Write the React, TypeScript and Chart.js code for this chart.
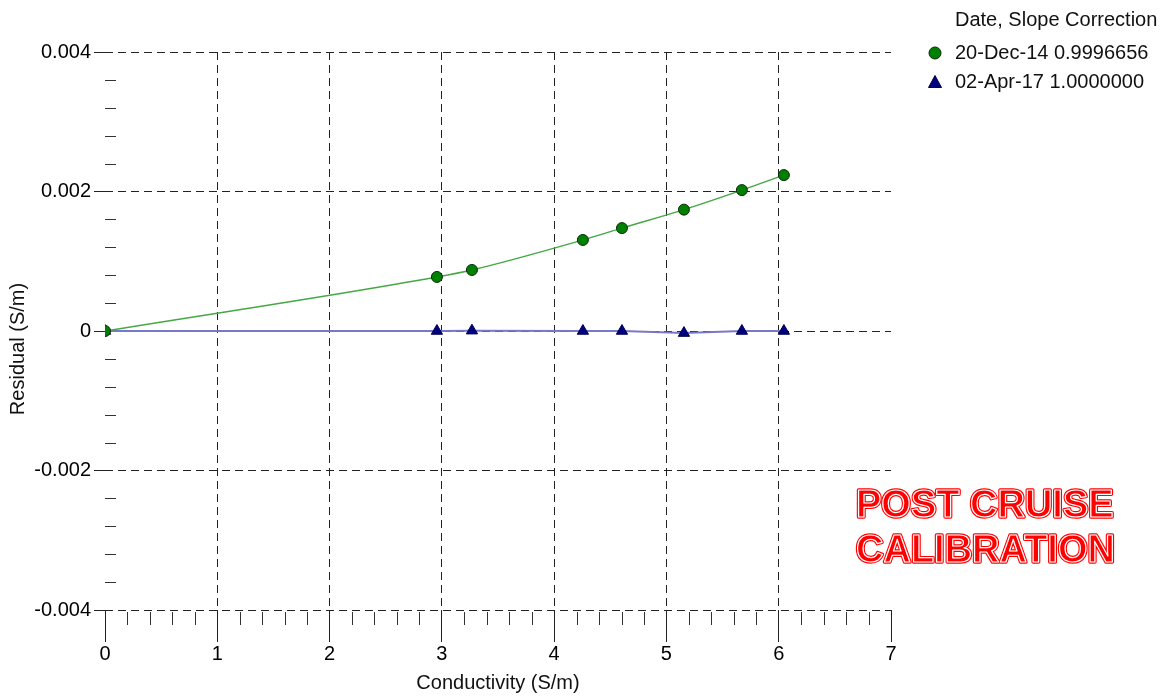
import React, { useEffect, useRef } from "react";
import { Chart, registerables } from "chart.js";

Chart.register(...registerables);

// ---- data ----
const conductivity = [0, 2.956, 3.268, 4.256, 4.604, 5.156, 5.672, 6.046];
const residualDec14 = [0, 0.000775, 0.000875, 0.001305, 0.001475, 0.00174, 0.00202, 0.002235];
const residualApr17 = [0, 0, 0.000005, 0, 0, -0.00003, 0, 0];
const seriesLabels = ["20-Dec-14 0.9996656", "02-Apr-17 1.0000000"];
const legendTitle = "Date, Slope Correction";
const xTicks = [0, 1, 2, 3, 4, 5, 6, 7];
const xTickLabels = ["0", "1", "2", "3", "4", "5", "6", "7"];
const yTicks = [-0.004, -0.002, 0, 0.002, 0.004];
const yTickLabels = ["-0.004", "-0.002", "0", "0.002", "0.004"];
const xTitle = "Conductivity (S/m)";
const yTitle = "Residual (S/m)";
const stampLines = ["POST CRUISE", "CALIBRATION"];

const FONT = '"Liberation Sans", Arial, Helvetica, sans-serif';
const GREEN_FILL = "#008000";
const GREEN_LINE = "#45a845";
const NAVY_FILL = "#000080";
const NAVY_LINE = "#7878c8";

const overlayPlugin = {
  id: "overlay",
  afterDraw(chart: any) {
    const ctx = chart.ctx as CanvasRenderingContext2D;
    const xs = chart.scales.x;
    const ys = chart.scales.y;
    const area = chart.chartArea;
    ctx.save();
    // minor ticks
    ctx.strokeStyle = "#333";
    ctx.lineWidth = 1;
    ctx.setLineDash([]);
    ctx.beginPath();
    for (let i = 1; i < 35; i++) {
      if (i % 5 === 0) continue;
      const px = Math.round(xs.getPixelForValue(i * 0.2)) + 0.5;
      ctx.moveTo(px, area.bottom + 2);
      ctx.lineTo(px, area.bottom + 15);
    }
    for (let i = 1; i < 20; i++) {
      if (i % 5 === 0) continue;
      const py = Math.round(ys.getPixelForValue(-0.004 + i * 0.0004)) + 0.5;
      ctx.moveTo(area.left, py);
      ctx.lineTo(area.left + 11, py);
    }
    ctx.stroke();

    // axis titles
    ctx.fillStyle = "#111";
    ctx.font = `20px ${FONT}`;
    ctx.textAlign = "center";
    ctx.textBaseline = "middle";
    ctx.fillText(xTitle, (area.left + area.right) / 2, 683);
    ctx.save();
    ctx.translate(18, 349);
    ctx.rotate(-Math.PI / 2);
    ctx.fillText(yTitle, 0, 0);
    ctx.restore();

    // legend
    ctx.textAlign = "left";
    ctx.fillText(legendTitle, 955, 20);
    const rows = [53, 82];
    chart.data.datasets.forEach((ds: any, i: number) => {
      const cy = rows[i];
      const cx = 935;
      ctx.beginPath();
      if (i === 0) {
        ctx.arc(cx, cy, 6, 0, Math.PI * 2);
      } else {
        ctx.moveTo(cx, cy - 6.5);
        ctx.lineTo(cx + 6.5, cy + 5.5);
        ctx.lineTo(cx - 6.5, cy + 5.5);
        ctx.closePath();
      }
      ctx.fillStyle = ds.backgroundColor;
      ctx.fill();
      ctx.strokeStyle = ds.pointBorderColor;
      ctx.lineWidth = 1;
      ctx.stroke();
      ctx.fillStyle = "#111";
      ctx.fillText(ds.label, 955, cy);
    });

    // stamp
    ctx.font = `bold 38px ${FONT}`;
    ctx.textBaseline = "alphabetic";
    ctx.textAlign = "left";
    ctx.lineJoin = "round";
    const ys2 = [517, 562];
    stampLines.forEach((t, i) => {
      ctx.strokeStyle = "#ff0000";
      ctx.lineWidth = 3.5;
      ctx.strokeText(t, 856, ys2[i]);
      ctx.fillStyle = "#ff0000";
      ctx.fillText(t, 856, ys2[i]);
      ctx.strokeStyle = "#ffffff";
      ctx.lineWidth = 1.2;
      ctx.strokeText(t, 856, ys2[i]);
    });
    ctx.restore();
  },
};

export default function App() {
  const ref = useRef<HTMLCanvasElement | null>(null);
  useEffect(() => {
    if (!ref.current) return;
    const chart = new Chart(ref.current, {
      type: "line",
      data: {
        datasets: [
          {
            label: seriesLabels[0],
            data: conductivity.map((x, i) => ({ x, y: residualDec14[i] })),
            borderColor: GREEN_LINE,
            borderWidth: 1.5,
            backgroundColor: GREEN_FILL,
            pointBackgroundColor: GREEN_FILL,
            pointBorderColor: "#0a2a0a",
            pointBorderWidth: 1,
            pointRadius: 5.5,
            pointStyle: "circle",
            cubicInterpolationMode: "monotone",
            fill: false,
          } as any,
          {
            label: seriesLabels[1],
            data: conductivity.map((x, i) => ({ x, y: residualApr17[i] })),
            borderColor: NAVY_LINE,
            borderWidth: 2,
            backgroundColor: NAVY_FILL,
            pointBackgroundColor: NAVY_FILL,
            pointBorderColor: "#000050",
            pointBorderWidth: 1,
            pointRadius: 6.5,
            pointStyle: "triangle",
            fill: false,
          } as any,
        ],
      },
      options: {
        animation: false,
        responsive: false,
        layout: { padding: { left: 0, top: 52, right: 282, bottom: 0 } },
        plugins: { legend: { display: false }, tooltip: { enabled: false } },
        scales: {
          x: {
            type: "linear",
            min: 0,
            max: 7,
            afterBuildTicks: (s: any) => {
              s.ticks = xTicks.map((v) => ({ value: v }));
            },
            afterFit: (s: any) => {
              s.height = 86;
            },
            ticks: {
              color: "#000",
              font: { size: 20, family: FONT },
              padding: 0,
              maxRotation: 0,
              autoSkip: false,
              callback: (v: any) => {
                const k = xTicks.findIndex((t) => Math.abs(t - v) < 1e-9);
                return k >= 0 ? xTickLabels[k] : "";
              },
            },
            grid: {
              color: (c: any) =>
                c.tick && (c.tick.value === 0 || c.tick.value === 7) ? "rgba(0,0,0,0)" : "#222",
              tickColor: "#222",
              tickLength: 32,
              lineWidth: 1,
            },
            border: { display: false, dash: [8, 5] },
          },
          y: {
            type: "linear",
            min: -0.004,
            max: 0.004,
            afterBuildTicks: (s: any) => {
              s.ticks = yTicks.map((v) => ({ value: v }));
            },
            afterFit: (s: any) => {
              s.width = 105;
            },
            ticks: {
              color: "#000",
              font: { size: 20, family: FONT },
              padding: 3,
              autoSkip: false,
              callback: (v: any) => {
                const k = yTicks.findIndex((t) => Math.abs(t - v) < 1e-9);
                return k >= 0 ? yTickLabels[k] : "";
              },
            },
            grid: { color: "#222", tickColor: "#222", tickLength: 11, lineWidth: 1 },
            border: { display: false, dash: [8, 5] },
          },
        },
      } as any,
      plugins: [overlayPlugin],
    });
    return () => chart.destroy();
  }, []);
  return (
    <div style={{ position: "absolute", left: 0, top: 0, width: 1173, height: 696, background: "#fff" }}>
      <canvas ref={ref} width={1173} height={696} style={{ display: "block" }} />
    </div>
  );
}
